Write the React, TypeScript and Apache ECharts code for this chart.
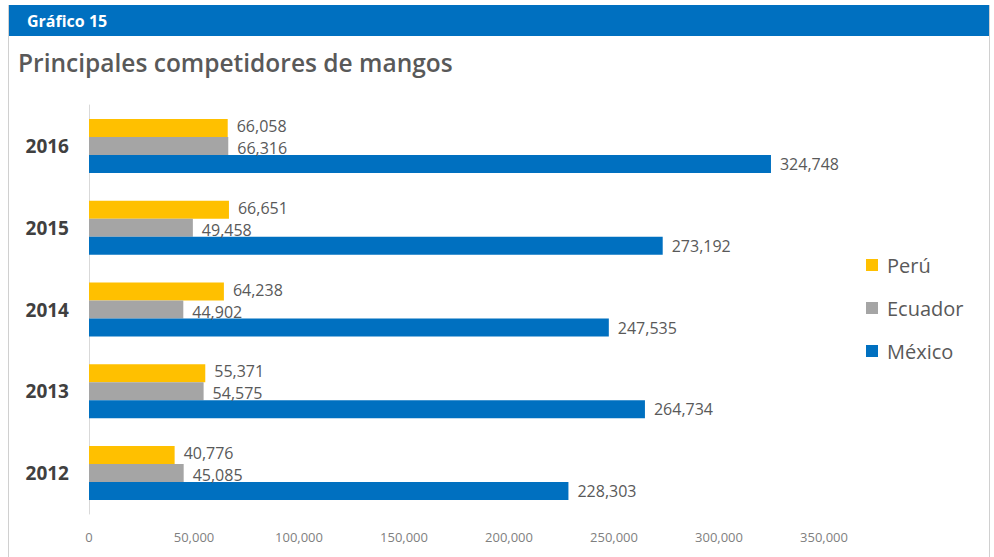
import React, { useEffect, useRef } from "react";
import * as echarts from "echarts";

const years = ["2012", "2013", "2014", "2015", "2016"];
const peru = [40776, 55371, 64238, 66651, 66058];
const ecuador = [45085, 54575, 44902, 49458, 66316];
const mexico = [228303, 264734, 247535, 273192, 324748];
const seriesNames = ["Perú", "Ecuador", "México"];
const headerLabel = "Gráfico 15";
const titleText = "Principales competidores de mangos";

const FONT = "'Open Sans', 'Liberation Sans', sans-serif";

export default function App() {
  const ref = useRef<HTMLDivElement>(null);
  useEffect(() => {
    document.body.style.margin = "0";
    if (!ref.current) return;
    const chart = echarts.init(ref.current, null, { renderer: "svg" });
    const fmt = (v: number) => v.toLocaleString("en-US");
    const makeLabel = (dy: number) => ({
      show: true,
      position: "right" as const,
      distance: 9,
      offset: [0, dy],
      color: "#595959",
      fontSize: 16,
      lineHeight: 17,
      fontFamily: FONT,
      formatter: (p: any) => fmt(p.value),
    });
    chart.setOption({
      animation: false,
      backgroundColor: "#ffffff",
      graphic: [
        { type: "rect", shape: { x: 8, y: 5, width: 982, height: 31 }, style: { fill: "#0070C0" } },
        { type: "line", shape: { x1: 8.5, y1: 5, x2: 8.5, y2: 557 }, style: { stroke: "#d0d0d0", lineWidth: 1 } },
        { type: "line", shape: { x1: 989.5, y1: 5, x2: 989.5, y2: 557 }, style: { stroke: "#d0d0d0", lineWidth: 1 } },
        {
          type: "text",
          x: 27,
          y: 21,
          style: { text: headerLabel, fill: "#ffffff", font: `bold 16px ${FONT}`, verticalAlign: "middle" },
        },
        {
          type: "text",
          x: 18,
          y: 62,
          style: { text: titleText, fill: "#595959", font: `600 24.5px ${FONT}`, verticalAlign: "middle" },
        },
      ],
      legend: {
        orient: "vertical",
        left: 861,
        top: 250,
        itemWidth: 12,
        itemHeight: 12,
        itemGap: 23,
        data: seriesNames,
        icon: "rect",
        textStyle: { color: "#595959", fontSize: 20, fontFamily: FONT, padding: [0, 0, 0, 4] },
      },
      grid: { left: 89, right: 170, top: 105, bottom: 43 },
      xAxis: {
        type: "value",
        min: 0,
        max: 350000,
        interval: 50000,
        splitLine: { show: false },
        axisLine: { show: false },
        axisTick: { show: false },
        axisLabel: {
          color: "#7f7f7f",
          fontSize: 13,
          fontFamily: FONT,
          margin: 16,
          formatter: (v: number) => fmt(v),
        },
      },
      yAxis: {
        type: "category",
        data: years,
        axisLine: { show: true, lineStyle: { color: "#d9d9d9" } },
        axisTick: { show: false },
        axisLabel: { color: "#404040", fontSize: 19, fontWeight: "bold", fontFamily: FONT, margin: 20 },
      },
      series: [
        { name: "Perú", type: "bar", data: peru, itemStyle: { color: "#FFC000" }, barWidth: 18, barGap: "0%", label: makeLabel(-2) },
        { name: "Ecuador", type: "bar", data: ecuador, itemStyle: { color: "#A5A5A5" }, barWidth: 18, barGap: "0%", label: makeLabel(2) },
        { name: "México", type: "bar", data: mexico, itemStyle: { color: "#0070C0" }, barWidth: 18, barGap: "0%", label: makeLabel(0) },
      ],
    });
    return () => chart.dispose();
  }, []);
  return <div ref={ref} style={{ width: 994, height: 557 }} />;
}
